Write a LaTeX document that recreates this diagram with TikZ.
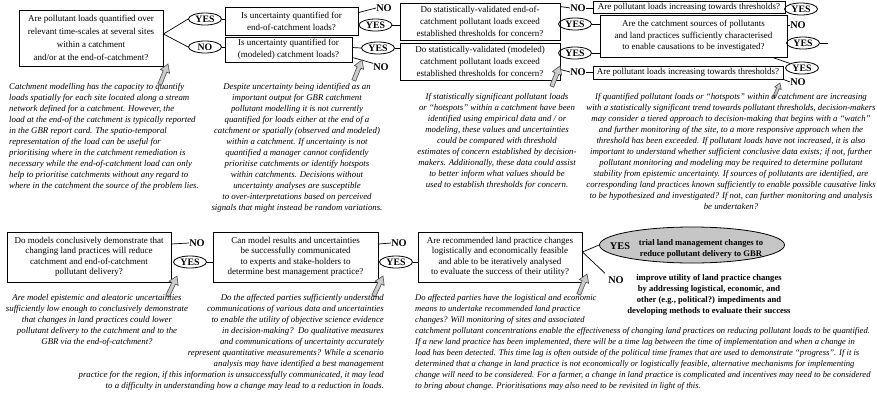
\documentclass[tikz,border=0pt]{standalone}
\usepackage{fontspec}
\setmainfont{Liberation Serif}
\usetikzlibrary{shapes.geometric,calc}
\begin{document}
\begin{tikzpicture}[x=1pt,y=-1pt,
  qbox/.style={draw, line width=0.9pt, align=center, inner sep=0pt, font=\fontsize{9}{12}\selectfont},
  qboxa/.style={qbox, font=\fontsize{9}{13}\selectfont},
  qboxb/.style={qbox, font=\fontsize{9}{10.5}\selectfont},
  yn/.style={draw, ellipse, line width=0.8pt, inner sep=0pt, minimum width=33pt, minimum height=12pt, font=\fontsize{9.8}{10}\selectfont\bfseries},
  nolab/.style={inner sep=0pt, font=\fontsize{10.3}{10}\selectfont\bfseries},
  captxt/.style={inner sep=0pt, font=\fontsize{8.8}{11}\selectfont\itshape},
  boldtxt/.style={inner sep=0pt, align=center, font=\fontsize{8.6}{11}\selectfont\bfseries},
  conn/.style={line width=0.7pt},
  garrow/.pic={\filldraw[fill=gray!40, draw=black!70, line width=0.6pt] (0,0) -- (-8,-5) -- (-8,-2) -- (-22,-2) -- (-22,2) -- (-8,2) -- (-8,5) -- cycle;}
]
\fill[white] (0,0) rectangle (877,402);
\useasboundingbox (0,0) rectangle (877,402);

% ---------- top row ----------
\node[qboxa, minimum width=144pt, minimum height=56pt] (A) at (91,38) {Are pollutant loads quantified over\\relevant time-scales at several sites\\within a catchment\\and/or at the end-of-catchment?};
\node[yn] (yA) at (205,19) {YES};
\node[yn] (nA) at (205,47) {NO};
\draw[conn] (yA.west) -- ([yshift=4pt]A.east) -- (nA.west);
\pic[rotate=68] at (168,64) {garrow};

\node[qbox, minimum width=133pt, minimum height=28pt] (B1) at (291.5,21) {Is uncertainty quantified for\\end-of-catchment loads?};
\node[qbox, minimum width=127pt, minimum height=25pt] (B2) at (288.5,49.5) {Is uncertainty quantified for\\(modeled) catchment loads?};
\draw[conn] (yA.east) -- (yA -| B1.west);
\draw[conn] (nA.east) -- (nA -| B2.west);
\node[nolab] (nB1) at (384,8) {NO};
\draw[conn] ([yshift=-6pt]B1.north east) -- (nB1.west);
\node[yn] (yB1) at (375.5,25) {YES};
\node[yn] (yB2) at (378,48) {YES};
\draw[conn] ([yshift=2pt]B2.east) -- (yB2.west);
\node[nolab] (nB2) at (381,67) {NO};
\draw[conn] ([yshift=-8pt]B2.east) -- (nB2.north west);
\pic[rotate=68] at (362,60) {garrow};

\node[qbox, minimum width=160pt, minimum height=37pt] (C1) at (480,21.5) {Do statistically-validated end-of-\\catchment pollutant loads exceed\\established thresholds for concern?};
\node[qbox, minimum width=160pt, minimum height=37pt] (C2) at (480,61.5) {Do statistically-validated (modeled)\\catchment pollutant loads exceed\\established thresholds for concern?};
\draw[conn] (yB1.east) -- (yB1 -| C1.west);
\draw[conn] (yB2.east) -- (yB2 -| C2.west);
\node[nolab] (nC1) at (578,8) {NO};
\node[yn] (yC1) at (575,24) {YES};
\node[yn] (yC2) at (575,53) {YES};
\node[nolab] (nC2) at (578,72) {NO};
\draw[conn] ([yshift=-4pt]C1.north east) -- (nC1.west);
\draw[conn] ([yshift=-8pt]C2.east) -- (nC2.west);
\pic[rotate=68] at (560,66) {garrow};

\node[qbox, minimum width=192pt, minimum height=12pt] (D1) at (689,7) {Are pollutant loads increasing towards thresholds?};
\node[qbox, font=\fontsize{9}{11.5}\selectfont, minimum width=187pt, minimum height=42pt] (D2) at (693.5,36) {Are the catchment sources of pollutants\\and land practices sufficiently characterised\\to enable causations to be investigated?};
\node[qbox, minimum width=190pt, minimum height=13pt] (D3) at (688,72.5) {Are pollutant loads increasing towards thresholds?};
\draw[conn] (nC1.east) -- (nC1 -| D1.west);
\draw[conn] (yC1.east) -- (yC1 -| D2.west);
\draw[conn] (yC2.east) -- (yC2 -| D2.west);
\draw[conn] (nC2.east) -- (nC2 -| D3.west);
\node[yn] (yD1) at (801,9) {YES};
\node[nolab] (nD2) at (798,25) {NO};
\draw[conn] (D2.east |- nD2) -- (nD2.west);
\node[yn] (yD2) at (803,43) {YES};
\coordinate (dEnd) at (828,43);
\draw[conn] (yD2.east) -- (dEnd);
\node[yn] (yD3) at (802,68) {YES};
\node[nolab] (nD3) at (798,82) {NO};
\draw[conn] ([xshift=-15pt]D2.south east) -- (yD3.north west);
\draw[conn] (D3.south east) -- (nD3.west);
\pic[rotate=68, scale=0.7] at (780,83) {garrow};

% ---------- captions top ----------
\node[captxt, align=left, anchor=north west] (capA) at (9,83) {Catchment modelling has the capacity to quantify\\loads spatially for each site located along a stream\\network defined for a catchment. However, the\\load at the end-of the catchment is typically reported\\in the GBR report card. The spatio-temporal\\representation of the load can be useful for\\prioritising where in the catchment remediation is\\necessary while the end-of-catchment load can only\\help to prioritise catchments without any regard to\\where in the catchment the source of the problem lies.};

\node[captxt, align=center, anchor=north] (capB) at (297,83) {Despite uncertainty being identified as an\\important output for GBR catchment\\pollutant modelling it is not currently\\quantified for loads either at the end of a\\catchment or spatially (observed and modeled)\\within a catchment. If uncertainty is not\\quantified a manager cannot confidently\\prioritise catchments or identify hotspots\\within catchments. Decisions without\\uncertainty analyses are susceptible\\to over-interpretations based on perceived\\signals that might instead be random variations.};

\node[captxt, align=center, anchor=north] (capC) at (497,93) {If statistically significant pollutant loads\\or ``hotspots'' within a catchment have been\\identified using empirical data and / or\\modeling, these values and uncertainties\\could be compared with threshold\\estimates of concern established by decision-\\makers. Additionally, these data could assist\\to better inform what values should be\\used to establish thresholds for concern.};

\node[captxt, align=center, anchor=north] (capD) at (731,93) {If quantified pollutant loads or ``hotspots'' within a catchment are increasing\\with a statistically significant trend towards pollutant thresholds, decision-makers\\may consider a tiered approach to decision-making that begins with a ``watch''\\and further monitoring of the site, to a more responsive approach when the\\threshold has been exceeded. If pollutant loads have not increased, it is also\\important to understand whether sufficient conclusive data exists; if not, further\\pollutant monitoring and modeling may be required to determine pollutant\\stability from epistemic uncertainty. If sources of pollutants are identified, are\\corresponding land practices known sufficiently to enable possible causative links\\to be hypothesized and investigated? If not, can further monitoring and analysis\\be undertaken?};

% ---------- bottom row ----------
\node[qboxb, minimum width=164pt, minimum height=50pt] (E) at (89,257) {Do models conclusively demonstrate that\\changing land practices will reduce\\catchment and end-of-catchment\\pollutant delivery?};
\node[nolab] (nE) at (197,243) {NO};
\draw[conn] ([yshift=13pt]E.east) -- (nE.west);
\node[yn] (yE) at (190,262) {YES};
\pic[rotate=65] at (177,276) {garrow};

\node[qboxb, minimum width=165pt, minimum height=50pt] (F) at (295.5,257) {Can model results and uncertainties\\be successfully communicated\\to experts and stake-holders to\\determine best management practice?};
\draw[conn] (yE.east) -- (yE -| F.west);
\node[nolab] (nF) at (399,243) {NO};
\draw[conn] ([yshift=13pt]F.east) -- (nF.west);
\node[yn] (yF) at (396,262) {YES};
\pic[rotate=65] at (383,276) {garrow};

\node[qboxb, minimum width=164pt, minimum height=50pt] (G) at (500,257) {Are recommended land practice changes\\logistically and economically feasible\\and able to be iteratively analysed\\to evaluate the success of their utility?};
\draw[conn] (yF.east) -- (yF -| G.west);
\pic[rotate=68] at (587,274) {garrow};

\node[draw, ellipse, line width=0.8pt, fill=gray!45, minimum width=185pt, minimum height=36pt] (T) at (692,245) {};
\node[nolab] (Tyes) at (620,246) {YES};
\node[boldtxt] (Ttext) at (701,248.5) {trial land management changes to\\reduce pollutant delivery to GBR};
\node[nolab] (nT) at (616,280) {NO};
\node[boldtxt, anchor=north] (nTtext) at (709,274) {improve utility of land practice changes\\by addressing logistical, economic, and\\other (e.g., political?) impediments and\\developing methods to evaluate their success};
\draw[conn] (T.west) -- ([yshift=5pt]G.east) -- ([shift={(-3pt,3pt)}]nT.north west);

% ---------- captions bottom ----------
\node[captxt, align=center, anchor=north] (capE) at (97,294) {Are model epistemic and aleatoric uncertainties\\sufficiently low enough to conclusively demonstrate\\that changes in land practices could lower\\pollutant delivery to the catchment and to the\\GBR via the end-of-catchment?};

\node[captxt, align=right, anchor=north east] (capF) at (384,294) {Do the affected parties sufficiently understand\\communications of various data and uncertainties\\to enable the utility of objective science evidence\\in decision-making?\ \ Do qualitative measures\\and communications of uncertainty accurately\\represent quantitative measurements? While a scenario\\analysis may have identified a best management\\practice for the region, if this information is unsuccessfully communicated, it may lead\\to a difficulty in understanding how a change may lead to a reduction in loads.};

\node[captxt, font=\fontsize{8.6}{11}\selectfont\itshape, align=left, anchor=north west] (capG) at (415,294) {Do affected parties have the logistical and economic\\means to undertake recommended land practice\\changes? Will monitoring of sites and associated\\catchment pollutant concentrations enable the effectiveness of changing land practices on reducing pollutant loads to be quantified.\\If a new land practice has been implemented, there will be a time lag between the time of implementation and when a change in\\load has been detected. This time lag is often outside of the political time frames that are used to demonstrate ``progress''. If it is\\determined that a change in land practice is not economically or logistically feasible, alternative mechanisms for implementing\\change will need to be considered. For a farmer, a change in land practice is complicated and incentives may need to be considered\\to bring about change. Prioritisations may also need to be revisited in light of this.};
\end{tikzpicture}
\end{document}
